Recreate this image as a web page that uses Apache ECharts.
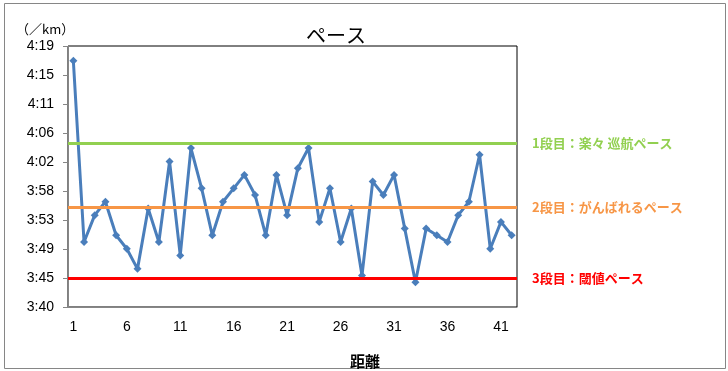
<!DOCTYPE html>
<html>
<head>
<meta charset="utf-8">
<script src="https://cdn.jsdelivr.net/npm/echarts@6/dist/echarts.min.js"></script>
<style>html,body{margin:0;padding:0;background:#fff}#c{width:728px;height:371px}</style>
</head>
<body>
<div id="c"></div>
<script>
// Distance (km) categories
var categories = ['1','2','3','4','5','6','7','8','9','10','11','12','13','14','15','16','17','18','19','20','21','22','23','24','25','26','27','28','29','30','31','32','33','34','35','36','37','38','39','40','41','42'];
// Pace per km in seconds
var paceSeconds = [257,230,234,236,231,229,226,235,230,242,228,244,238,231,236,238,240,237,231,240,234,241,244,233,238,230,235,225,239,237,240,232,224,232,231,230,234,236,243,229,233,231];
// Reference pace levels (seconds)
var levelNames = ['1段目：楽々 巡航ペース','2段目：がんばれるペース','3段目：閾値ペース'];
var levelValues = [244.75, 235.2, 224.65];
var levelColors = ['#92D050','#F79646','#FF0000'];
// Y axis (Excel time scale)
var yMin = 220.32, yMax = 259.2, yStep = 4.32;

function fmt(v){ var s = Math.round(v); var m = Math.floor(s/60); var r = s%60; return m + ':' + (r<10?'0':'') + r; }

var chart = echarts.init(document.getElementById('c'));
var mlData = levelValues.map(function(v,i){
  return {yAxis: v, lineStyle:{color: levelColors[i], width:3, type:'solid'},
    label:{show:true, position:'end', distance:15, formatter: levelNames[i], color: levelColors[i],
      fontSize:13, fontWeight:'bold', fontFamily:'Noto Sans CJK JP'}};
});
chart.setOption({
  animation:false,
  graphic:[
    {type:'rect', left:2, top:1, shape:{width:721, height:365}, style:{fill:'none', stroke:'#868686', lineWidth:1}, z:-1},
    {type:'text', left:306, top:25, style:{text:'ペース', font:'20px "Noto Sans CJK JP"', fill:'#000', textAlign:'center', textVerticalAlign:'middle'}},
    {type:'text', left:16, top:23, style:{text:'（／km）', font:'13px "Noto Sans CJK JP"', fill:'#000', textVerticalAlign:'middle'}},
    {type:'text', left:350, top:354, style:{text:'距離', font:'bold 15px "Noto Sans CJK JP"', fill:'#000', textAlign:'center', textVerticalAlign:'middle'}}
  ],
  grid:{left:68, right:211, top:46, bottom:64, show:true, borderColor:'#000', borderWidth:1, backgroundColor:'transparent'},
  xAxis:{type:'category', data:categories, boundaryGap:true,
    axisLine:{lineStyle:{color:'#868686', width:1}},
    axisTick:{interval:4, length:5, lineStyle:{color:'#868686'}},
    axisLabel:{interval:4, color:'#000', fontSize:14, fontFamily:'Liberation Sans', margin:13},
    splitLine:{show:false}},
  yAxis:{type:'value', min:yMin, max:yMax, interval:yStep,
    axisLine:{show:true, lineStyle:{color:'#868686', width:1}},
    axisTick:{show:true, length:5, lineStyle:{color:'#868686'}},
    axisLabel:{color:'#000', fontSize:14, fontFamily:'Liberation Sans', margin:14, formatter: fmt},
    splitLine:{show:false}},
  series:[
    {type:'line', data:[], z:1, silent:true, markLine:{symbol:'none', silent:true, animation:false, data: mlData}},
    {type:'line', data:paceSeconds, z:3, symbol:'diamond', symbolSize:8, showSymbol:true, showAllSymbol:true,
      lineStyle:{color:'#4A7EBB', width:3}, itemStyle:{color:'#4A7EBB'}}
  ]
});
</script>
</body>
</html>
